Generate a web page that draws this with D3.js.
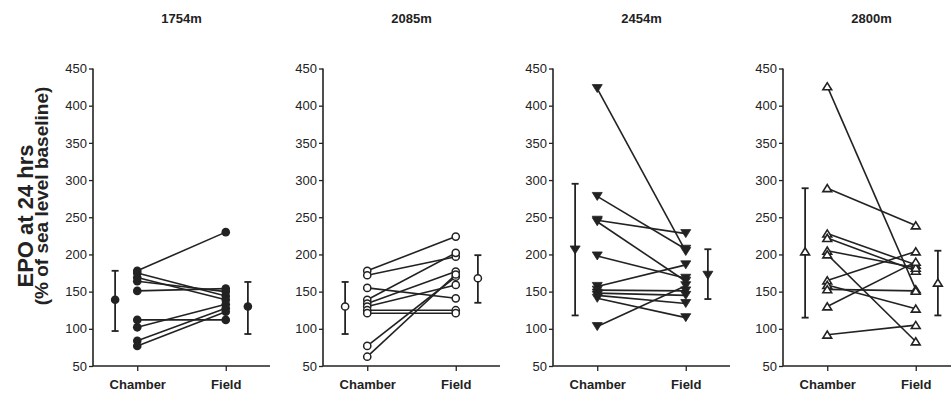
<!DOCTYPE html>
<html><head><meta charset="utf-8">
<script src="https://cdn.jsdelivr.net/npm/d3@7"></script>
<style>body{margin:0;background:#fff}svg{display:block}text{font-family:Arial,"Liberation Sans",sans-serif;fill:#222}</style>
</head><body><svg id="c" width="951" height="396"></svg>
<script>
const panelTitles = ["1754m", "2085m", "2454m", "2800m"];
const conditions = ["Chamber", "Field"];
const yTicks = [50, 100, 150, 200, 250, 300, 350, 400, 450];
const markerTypes = ["circleFilled", "circleOpen", "triDownFilled", "triUpOpen"];

// paired individual values (Chamber, Field)
const chamber1754 = [178, 175, 169, 164, 151, 112, 102, 84, 77];
const field1754   = [230, 144, 139, 150, 154, 112, 133, 127.5, 123];
const chamber2085 = [178, 172, 155, 139, 134, 130, 125, 121, 77, 62.5];
const field2085   = [224, 197, 141, 202, 177, 159, 125, 121, 170, 173];
const chamber2454 = [423, 278, 246, 244, 198, 157, 152, 148, 145, 141, 103];
const field2454   = [204, 207, 228, 164, 168, 186, 151, 145, 134, 115, 158];
const chamber2800 = [426, 289, 228, 222, 205, 200, 165, 159, 153, 130, 92];
const field2800   = [153, 239, 186, 178, 182, 83, 204, 127, 151, 190, 105];

// group means and error bars [mean, low, high]
const meanChamber = [[139, 97, 178], [130, 93, 163], [206, 118, 295], [204, 115, 289]];
const meanField   = [[130, 93, 163], [168, 135, 199], [172, 140, 207], [162, 118, 205]];

const chamberSets = [chamber1754, chamber2085, chamber2454, chamber2800];
const fieldSets = [field1754, field2085, field2454, field2800];

const svg = d3.select("#c");
const ink = "#222";
const panelLeft = [93, 323, 553, 783];
const pw = 177;
const y = d3.scaleLinear().domain([50, 450]).range([366, 68.5]);
const x = d3.scaleLinear().domain([0, 4]).range([0, pw]);

function marker(g, type, cx, cy) {
  if (type.startsWith("circle")) {
    g.append("circle").attr("cx", cx).attr("cy", cy)
      .attr("r", type === "circleFilled" ? 4.3 : 3.6)
      .attr("fill", type === "circleFilled" ? ink : "#fff")
      .attr("stroke", ink).attr("stroke-width", type === "circleFilled" ? 0 : 1.5);
  } else {
    const w = 5, h = 4;
    let pts;
    if (type === "triDownFilled") pts = [[cx - w, cy - h], [cx + w, cy - h], [cx, cy + h]];
    else pts = [[cx - w + 0.6, cy + h - 0.6], [cx + w - 0.6, cy + h - 0.6], [cx, cy - h + 0.3]];
    g.append("path").attr("d", d3.line()(pts) + "Z")
      .attr("fill", type === "triDownFilled" ? ink : "#fff")
      .attr("stroke", ink).attr("stroke-width", type === "triDownFilled" ? 0.8 : 1.6)
      .attr("stroke-linejoin", "miter");
  }
}

panelTitles.forEach((t, i) => {
  const g = svg.append("g").attr("transform", `translate(${panelLeft[i]},0)`);
  g.append("text").attr("x", pw / 2).attr("y", 23).attr("text-anchor", "middle")
    .attr("font-size", 13).attr("font-weight", "bold").text(t);

  const ya = g.append("g").call(d3.axisLeft(y).tickValues(yTicks).tickSize(4).tickPadding(2));
  ya.select(".domain").attr("stroke", ink).attr("stroke-width", 1.6).attr("d", `M0,${y(450)}V${y(50)}`);
  ya.selectAll(".tick line").attr("stroke", ink).attr("stroke-width", 1.3);
  ya.selectAll(".tick text").attr("font-size", 13).attr("font-family", "Arial, 'Liberation Sans', sans-serif").attr("fill", ink);

  const xa = g.append("g").attr("transform", `translate(0,${y(50)})`)
    .call(d3.axisBottom(x).tickValues([1, 3]).tickFormat((d, k) => conditions[k]).tickSize(5).tickPadding(9));
  xa.select(".domain").attr("stroke", ink).attr("stroke-width", 1.6).attr("d", `M0,0H${pw}`);
  xa.selectAll(".tick line").attr("stroke", ink).attr("stroke-width", 1.3);
  xa.selectAll(".tick text").attr("font-size", 13).attr("font-weight", "bold")
    .attr("font-family", "Arial, 'Liberation Sans', sans-serif").attr("fill", ink);

  const ch = chamberSets[i], fd = fieldSets[i];
  ch.forEach((v, k) => {
    g.append("line").attr("x1", x(1)).attr("y1", y(v)).attr("x2", x(3)).attr("y2", y(fd[k]))
      .attr("stroke", ink).attr("stroke-width", 1.6);
  });
  ch.forEach(v => marker(g, markerTypes[i], x(1), y(v)));
  fd.forEach(v => marker(g, markerTypes[i], x(3), y(v)));

  [[0.5, meanChamber[i]], [3.5, meanField[i]]].forEach(([px, m]) => {
    const cx = x(px);
    g.append("line").attr("x1", cx).attr("x2", cx).attr("y1", y(m[1])).attr("y2", y(m[2]))
      .attr("stroke", ink).attr("stroke-width", 1.8);
    [m[1], m[2]].forEach(v => g.append("line").attr("x1", cx - 3.5).attr("x2", cx + 3.5)
      .attr("y1", y(v)).attr("y2", y(v)).attr("stroke", ink).attr("stroke-width", 1.8));
    marker(g, markerTypes[i], cx, y(m[0]));
  });
});

svg.append("text").attr("transform", "translate(33,216) rotate(-90)").attr("text-anchor", "middle")
  .attr("font-weight", "bold").attr("font-size", 22).text("EPO at 24 hrs");
svg.append("text").attr("transform", "translate(48,196) rotate(-90)").attr("text-anchor", "middle")
  .attr("font-weight", "bold").attr("font-size", 19).text("(% of sea level baseline)");
</script></body></html>
